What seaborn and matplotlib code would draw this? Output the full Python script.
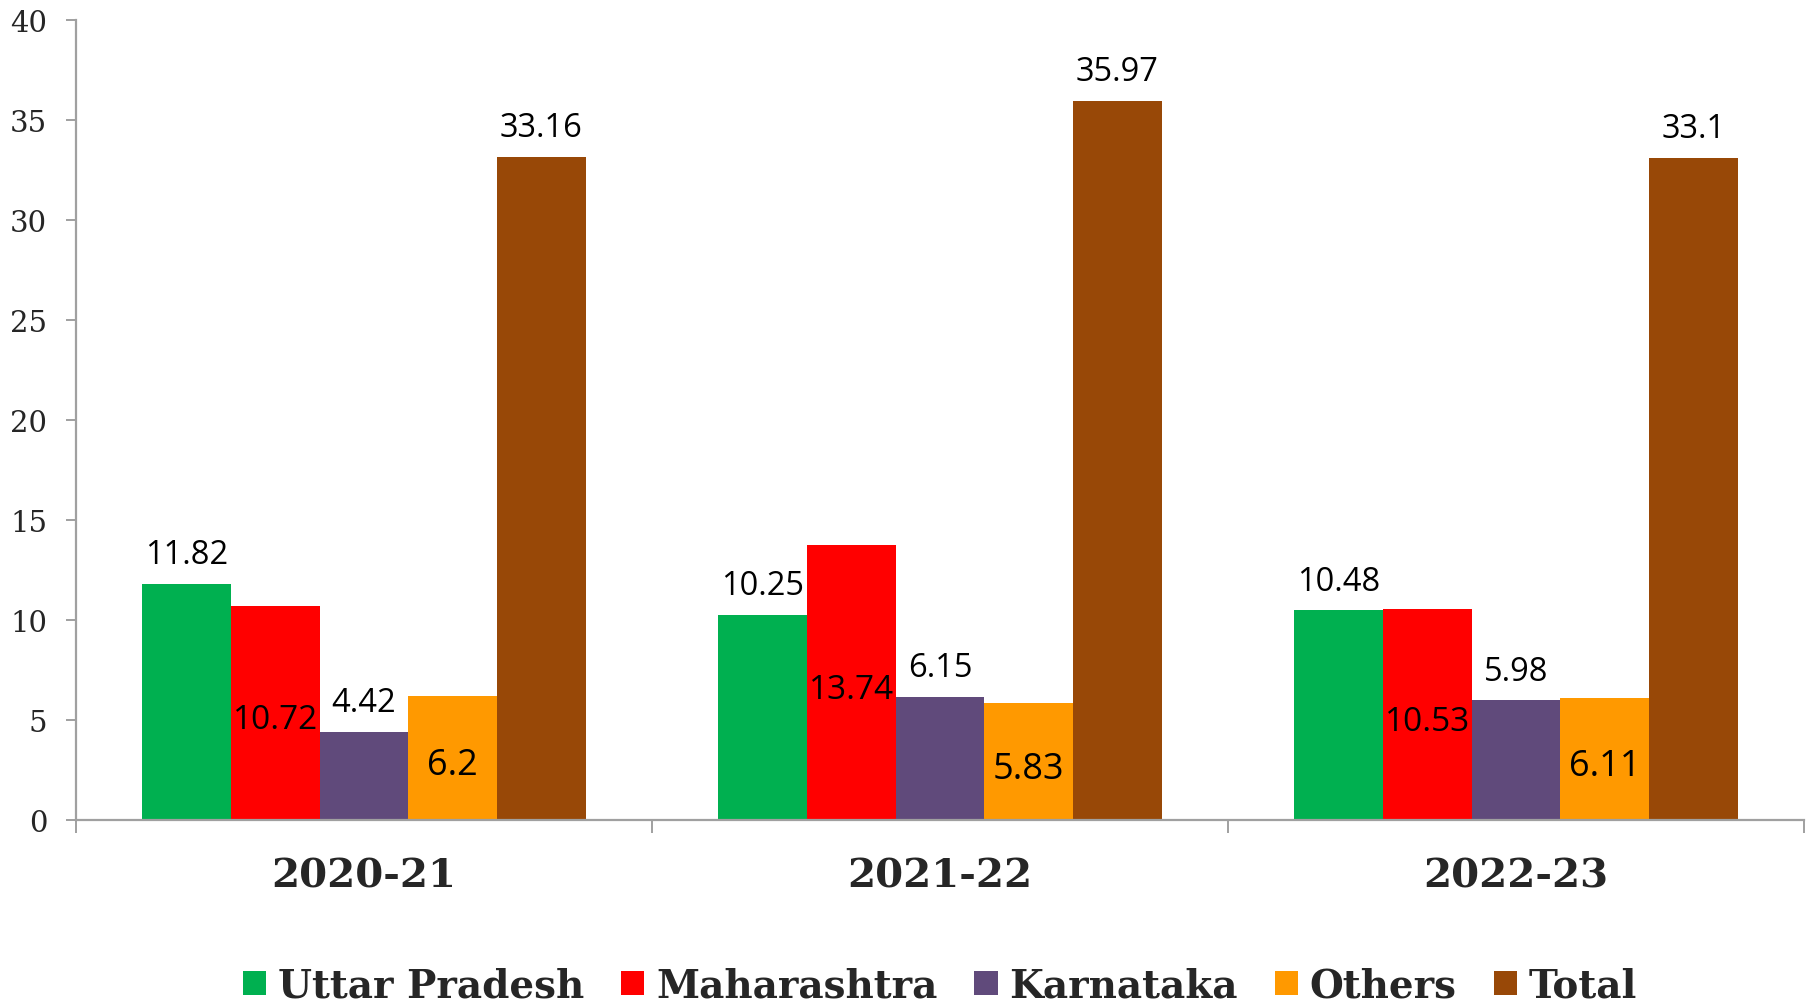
import matplotlib
matplotlib.use("Agg")
import matplotlib.pyplot as plt
import seaborn as sns
import pandas as pd
from matplotlib.ticker import FixedLocator, NullFormatter

years = ["2020-21", "2021-22", "2022-23"]
series = ["Uttar Pradesh", "Maharashtra", "Karnataka", "Others", "Total"]
uttar_pradesh = [11.82, 10.25, 10.48]
maharashtra = [10.72, 13.74, 10.53]
karnataka = [4.42, 6.15, 5.98]
others = [6.2, 5.83, 6.11]
total = [33.16, 35.97, 33.1]
colors = ["#00B050", "#FF0000", "#604A7B", "#FF9900", "#984807"]
y_ticks = [0, 5, 10, 15, 20, 25, 30, 35, 40]

values = [uttar_pradesh, maharashtra, karnataka, others, total]
rows = []
for s, vals in zip(series, values):
    for y, v in zip(years, vals):
        rows.append({"Year": y, "Series": s, "Value": v})
df = pd.DataFrame(rows)

sns.set_theme(style="white")
plt.rcParams["font.family"] = ["DejaVu Sans"]

W, H = 1815, 1004
fig = plt.figure(figsize=(W / 100, H / 100), dpi=100)
ax = fig.add_axes([76 / W, 1 - 821 / H, (1804 - 76) / W, 800 / H])

sns.barplot(data=df, x="Year", y="Value", hue="Series", order=years,
            hue_order=series, palette=colors, width=0.77, dodge=True,
            saturation=1, linewidth=0, errorbar=None, ax=ax)

ax.set_ylim(0, 40)
ax.set_xlim(-0.5, 2.5)
ax.set_yticks(y_ticks)
ax.set_xlabel("")
ax.set_ylabel("")

spine_col = "#A0A0A0"
for side in ["top", "right"]:
    ax.spines[side].set_visible(False)
for side in ["left", "bottom"]:
    ax.spines[side].set_color(spine_col)
    ax.spines[side].set_linewidth(1.6)

ax.tick_params(axis="y", which="major", length=7.2, width=1.4, color=spine_col,
               pad=13.5, labelsize=21, left=True)
for lbl in ax.get_yticklabels():
    lbl.set_fontfamily("DejaVu Serif")

ax.tick_params(axis="x", which="major", length=0, pad=26, labelsize=29)
for lbl in ax.get_xticklabels():
    lbl.set_fontfamily("DejaVu Serif")
    lbl.set_fontweight("heavy")
ax.xaxis.set_minor_locator(FixedLocator([-0.5, 0.5, 1.5, 2.5]))
ax.xaxis.set_minor_formatter(NullFormatter())
ax.tick_params(axis="x", which="minor", length=9.5, width=1.4, color=spine_col,
               bottom=True)

# data labels
for container, s in zip(ax.containers, series):
    for bar in container:
        v = bar.get_height()
        cx = bar.get_x() + bar.get_width() / 2
        txt = f"{v:g}"
        if s == "Maharashtra":
            ax.annotate(txt, (cx, v / 2), xytext=(0, -5), textcoords="offset points",
                        ha="center", va="center", fontsize=24,
                        family="Open Sans", color="black")
        elif s == "Others":
            ax.annotate(txt, (cx, v / 2), xytext=(0, -5), textcoords="offset points",
                        ha="center", va="center", fontsize=26,
                        family="Open Sans", color="black")
        else:
            ax.annotate(txt, (cx, v), xytext=(0, 15), textcoords="offset points",
                        ha="center", va="baseline", fontsize=23.5,
                        family="Open Sans", color="black")

leg = ax.legend(loc="center", bbox_to_anchor=(0.5, -0.207), ncol=5, frameon=False,
                prop={"family": "DejaVu Serif", "weight": "heavy", "size": 28},
                handlelength=0.6, handleheight=0.6, handletextpad=0.3,
                columnspacing=0.95, borderaxespad=0)

fig.savefig("out.png", dpi=100)
